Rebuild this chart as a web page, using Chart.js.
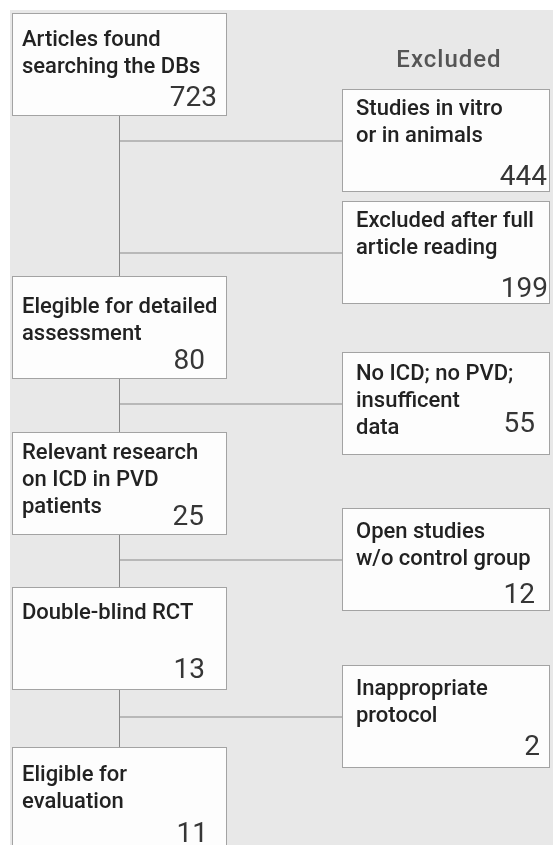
<!DOCTYPE html>
<html>
<head>
<meta charset="utf-8">
<script src="https://cdn.jsdelivr.net/npm/chart.js@4.4.1/dist/chart.umd.min.js"></script>
<style>
  html, body { margin: 0; padding: 0; background: #ffffff; }
  #wrap { position: relative; width: 553px; height: 845px; overflow: hidden; }
  #bg { position: absolute; left: 10px; top: 10px; right: 0; bottom: 0; background: #e8e8e8; }
  #flow { position: absolute; left: 0; top: 0; }
</style>
</head>
<body>
<div id="wrap">
  <div id="bg"></div>
  <canvas id="flow" width="553" height="845"></canvas>
</div>
<script>
// Datos del diagrama de flujo
const mainLabels = [
    ["Articles found", "searching the DBs"],
    ["Elegible for detailed", "assessment"],
    ["Relevant research", "on ICD in PVD", "patients"],
    ["Double-blind RCT"],
    ["Eligible for", "evaluation"]
];
const mainCounts = [723, 80, 25, 13, 11];

const excludedTitle = "Excluded";
const excludedLabels = [
    ["Studies in vitro", "or in animals"],
    ["Excluded after full", "article reading"],
    ["No ICD; no PVD;", "insufficent", "data"],
    ["Open studies", "w/o control group"],
    ["Inappropriate", "protocol"]
];
const excludedCounts = [444, 199, 55, 12, 2];

// Disposicion (unidades de las escalas)
const BOX_H = 103;
const mainX = [12, 227];
const exclX = [342, 550];
const mainTop = [13, 276, 432, 587, 747];
const exclTop = [89, 201, 352, 508, 665];
const spineX = 119.5;

// posicion del texto dentro de cada caja
const mainFirstLine = [33, 37, 27, 32, 34];
const exclFirstLine = [26, 26, 28, 30, 30];
const mainNumRight = [217, 205, 204, 205, 208];
const exclNumRight = [547, 548, 535, 535, 540];
const mainNumBottom = [10, 10, 10, 12, 8];
const exclNumBottom = [7, 7, 23, 8, 13];
const LINE_GAP = 27;

// construir cajas
const boxes = [];
mainTop.forEach(t => boxes.push({ y: t + BOX_H / 2, x: [mainX[0], mainX[1]] }));
exclTop.forEach(t => boxes.push({ y: t + BOX_H / 2, x: [exclX[0], exclX[1]] }));

// conectores
const connectors = [];
connectors.push([
    { x: spineX, y: mainTop[0] + BOX_H },
    { x: spineX, y: mainTop[mainTop.length - 1] }
]);
exclTop.forEach(t => {
    const yc = t + BOX_H / 2 + 0.5;
    connectors.push([{ x: spineX, y: yc }, { x: exclX[0], y: yc }]);
});

const lineSets = connectors.map(pts => ({
    type: 'line',
    data: pts,
    borderColor: '#888888',
    borderWidth: 1,
    pointRadius: 0,
    fill: false,
    tension: 0,
    order: 2
}));

const textPlugin = {
    id: 'boxText',
    afterDatasetsDraw(chart) {
        const ctx = chart.ctx;
        const xs = chart.scales.x, ys = chart.scales.y;
        ctx.save();
        ctx.textBaseline = 'alphabetic';

        function drawBox(labels, count, x0, pad, top, first, numRight, numBottom) {
            const px = xs.getPixelForValue(x0) + pad;
            const py = ys.getPixelForValue(top);
            ctx.font = '500 22px Roboto';
            ctx.fillStyle = '#222222';
            ctx.textAlign = 'left';
            labels.forEach((l, k) => ctx.fillText(l, px, py + first + k * LINE_GAP));
            ctx.font = '400 28px Roboto';
            ctx.fillStyle = '#363636';
            ctx.textAlign = 'right';
            ctx.fillText(String(count), xs.getPixelForValue(numRight), ys.getPixelForValue(top + BOX_H - numBottom));
        }

        mainLabels.forEach((l, i) => drawBox(l, mainCounts[i], mainX[0], 10, mainTop[i], mainFirstLine[i], mainNumRight[i], mainNumBottom[i]));
        excludedLabels.forEach((l, i) => drawBox(l, excludedCounts[i], exclX[0], 14, exclTop[i], exclFirstLine[i], exclNumRight[i], exclNumBottom[i]));

        // titulo de la columna de excluidos
        ctx.font = '500 24px Roboto';
        ctx.fillStyle = '#555555';
        ctx.textAlign = 'center';
        ctx.letterSpacing = '1px';
        ctx.fillText(excludedTitle, xs.getPixelForValue(449), ys.getPixelForValue(67));
        ctx.restore();
    }
};

var ctx = document.getElementById('flow').getContext('2d');
var flowChart = new Chart(ctx, {
    type: 'bar',
    data: {
        datasets: [{
            type: 'bar',
            indexAxis: 'y',
            data: boxes,
            backgroundColor: '#fdfdfd',
            borderColor: '#a3a3a3',
            borderWidth: 1,
            borderSkipped: false,
            inflateAmount: 0,
            barThickness: BOX_H,
            order: 1
        }].concat(lineSets)
    },
    options: {
        responsive: false,
        animation: false,
        devicePixelRatio: 1,
        layout: { padding: 0 },
        plugins: {
            legend: { display: false },
            tooltip: { enabled: false },
            title: { display: false }
        },
        scales: {
            x: { type: 'linear', min: 0, max: 553, display: false, offset: false },
            y: { type: 'linear', min: 0, max: 845, reverse: true, display: false, offset: false }
        }
    },
    plugins: [textPlugin]
});
</script>
</body>
</html>
